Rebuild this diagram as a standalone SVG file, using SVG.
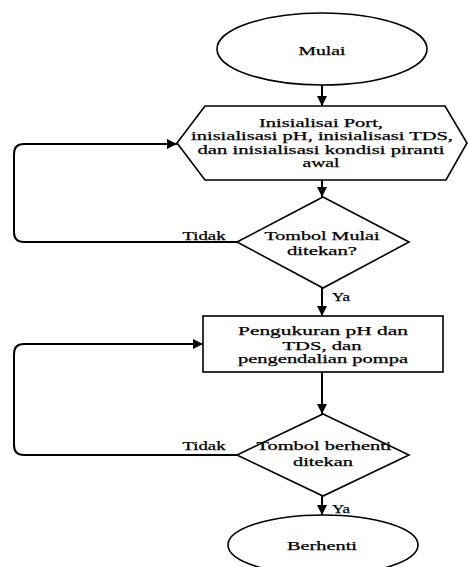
<svg xmlns="http://www.w3.org/2000/svg" width="468" height="567" viewBox="0 0 468 567">
<style>
.shape{fill:#fff;stroke:#000;stroke-width:1.6}
.conn{fill:none;stroke:#000;stroke-width:2}
text{font-family:"Liberation Serif","Times New Roman",serif;font-size:12.5px;fill:#000;text-anchor:middle;stroke:#000;stroke-width:0.25}
</style>
<defs>
<marker id="arr" viewBox="0 0 10 10" refX="10" refY="5" markerWidth="10" markerHeight="10" markerUnits="userSpaceOnUse" orient="auto">
<path d="M0,0 L10,5 L0,10 z" fill="#000"/>
</marker>
</defs>
<rect width="468" height="567" fill="#fff"/>
<g id="connectors">
<path class="conn" d="M322,85 V106" marker-end="url(#arr)"/>
<path class="conn" d="M322,180 V197" marker-end="url(#arr)"/>
<path class="conn" d="M322,288 V316" marker-end="url(#arr)"/>
<path class="conn" d="M322,372 V414" marker-end="url(#arr)"/>
<path class="conn" d="M322,496 V515" marker-end="url(#arr)"/>
<path class="conn" d="M237,242 H24 Q14,242 14,232 V154 Q14,144 24,144 H177" marker-end="url(#arr)"/>
<path class="conn" d="M237,455 H24 Q14,455 14,445 V354 Q14,344 24,344 H203" marker-end="url(#arr)"/>
<text x="204" y="240" textLength="43" lengthAdjust="spacingAndGlyphs">Tidak</text>
<text x="341" y="301" textLength="18" lengthAdjust="spacingAndGlyphs">Ya</text>
<text x="204" y="450" textLength="43" lengthAdjust="spacingAndGlyphs">Tidak</text>
<text x="341" y="513" textLength="18" lengthAdjust="spacingAndGlyphs">Ya</text>
</g>
<g id="mulai">
<ellipse class="shape" cx="322" cy="49" rx="105" ry="36"/>
<text x="322" y="55" textLength="47" lengthAdjust="spacingAndGlyphs">Mulai</text>
</g>
<g id="inisialisasi">
<polygon class="shape" points="177,143 205,106 445,106 467,143 446,180 205,180"/>
<text x="321" y="127" textLength="124" lengthAdjust="spacingAndGlyphs">Inisialisai Port,</text>
<text x="322" y="140" textLength="262" lengthAdjust="spacingAndGlyphs">inisialisasi pH, inisialisasi TDS,</text>
<text x="321" y="154" textLength="247" lengthAdjust="spacingAndGlyphs">dan inisialisasi kondisi piranti</text>
<text x="321" y="167" textLength="37" lengthAdjust="spacingAndGlyphs">awal</text>
</g>
<g id="tombol-mulai">
<polygon class="shape" points="323,197 409,242 323,288 237,242"/>
<text x="322" y="240" textLength="115" lengthAdjust="spacingAndGlyphs">Tombol Mulai</text>
<text x="322" y="255" textLength="70" lengthAdjust="spacingAndGlyphs">ditekan?</text>
</g>
<g id="pengukuran">
<rect class="shape" x="203" y="316" width="240" height="56"/>
<text x="323" y="335" textLength="170" lengthAdjust="spacingAndGlyphs">Pengukuran pH dan</text>
<text x="322" y="350" textLength="79" lengthAdjust="spacingAndGlyphs">TDS, dan</text>
<text x="323" y="363" textLength="170" lengthAdjust="spacingAndGlyphs">pengendalian pompa</text>
</g>
<g id="tombol-berhenti">
<polygon class="shape" points="323,414 409,455 323,496 237,455"/>
<text x="324" y="450" textLength="135" lengthAdjust="spacingAndGlyphs">Tombol berhenti</text>
<text x="323" y="466" textLength="60" lengthAdjust="spacingAndGlyphs">ditekan</text>
</g>
<g id="berhenti">
<ellipse class="shape" cx="323" cy="545" rx="95" ry="30"/>
<text x="322" y="550" textLength="70" lengthAdjust="spacingAndGlyphs">Berhenti</text>
</g>
</svg>
